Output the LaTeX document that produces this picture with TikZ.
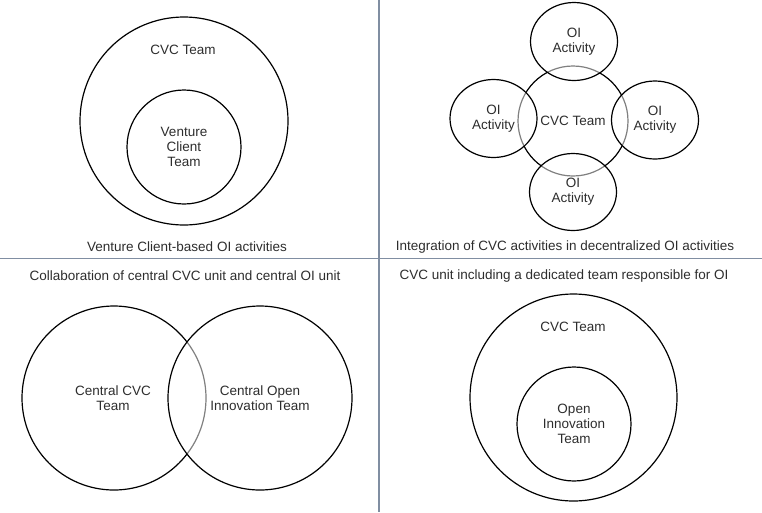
\documentclass[tikz,border=0pt]{standalone}
\usepackage{fontspec}
\setmainfont{Liberation Sans}
\usetikzlibrary{shapes.geometric, positioning}

\definecolor{sepline}{RGB}{128,142,162}
\definecolor{inktext}{RGB}{45,45,45}

\begin{document}
\begin{tikzpicture}[x=1pt, y=-1pt,
    every node/.style={font=\fontsize{13.5}{14.8}\selectfont, text=inktext, align=center},
    team/.style={circle, draw=black, line width=1.2pt, inner sep=0pt},
    oiact/.style={ellipse, draw=black, line width=1.2pt, inner sep=0pt,
        fill=white, fill opacity=0.5, text opacity=1,
        minimum width=87pt, minimum height=78pt},
    caption/.style={inner sep=1pt}]
    \useasboundingbox (0,0) rectangle (762,512);

    % Venture Client (haut gauche)
    \node[team, minimum size=208pt] (vcOuter) at (184,121) {};
    \node at (183,50) (vcLabel) {CVC Team};
    \node[team, minimum size=114pt] (vcInner) at (184,147) {Venture\\Client\\Team};
    \node[caption] (capA) at (187,247) {Venture Client-based OI activities};

    % CVC + OI decentralise (haut droite)
    \node[team, minimum size=110pt] (cvcHub) at (573,121) {CVC Team};
    \node[oiact] (oiTop) at (574,41.5) {OI\\Activity};
    \node[oiact] (oiLeft) at (493.5,118.5) {OI\\Activity};
    \node[oiact] (oiRight) at (655,120) {OI\\Activity};
    \node[oiact, minimum height=77pt] (oiBottom) at (573,192) {OI\\Activity};
    \node[caption] (capB) at (565,247) {Integration of CVC activities in decentralized OI activities};

    % Collaboration centrale (bas gauche)
    \node[team, minimum size=184pt] (cvcCentral) at (114,398) {};
    \node at (113,398) (cvcCentralLabel) {Central CVC\\Team};
    \node[team, minimum size=184pt, fill=white, fill opacity=0.5, text opacity=1] (oiCentral) at (260,398) {Central Open\\Innovation Team};
    \node[caption] (capC) at (185,276) {Collaboration of central CVC unit and central OI unit};

    % Equipe OI dediee (bas droite)
    \node[team, minimum size=207pt] (ddOuter) at (573.5,397.5) {};
    \node at (573,327) (ddLabel) {CVC Team};
    \node[team, minimum size=114pt] (ddInner) at (574,424) {Open\\Innovation\\Team};
    \node[caption] (capD) at (564,276) {CVC unit including a dedicated team responsible for OI};

    % Separateurs
    \draw[sepline, line width=1.8pt] (379,0) -- (379,512);
    \draw[sepline, line width=1.8pt] (0,258.5) -- (762,258.5);
\end{tikzpicture}
\end{document}
